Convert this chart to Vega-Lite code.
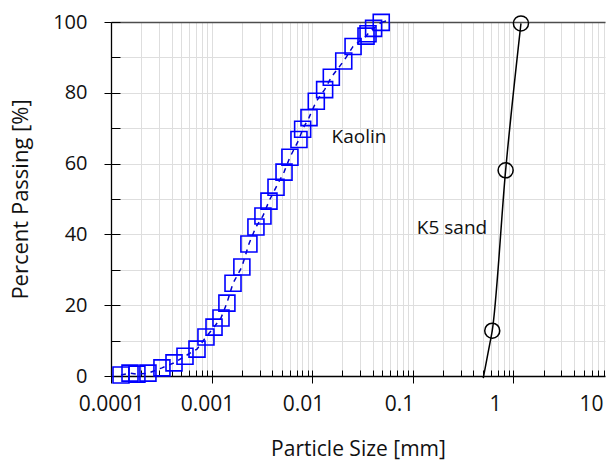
{
  "$schema": "https://vega.github.io/schema/vega-lite/v6.json",
  "width": 494,
  "height": 354,
  "autosize": {"type": "none"},
  "padding": {"left": 111, "top": 22, "right": 1, "bottom": 87},
  "config": {
    "view": {"stroke": null},
    "font": "Open Sans",
    "axis": {"tickColor": "#000000", "domainColor": "#000000", "gridColor": "#dedede", "gridWidth": 1, "labelColor": "#111111", "titleColor": "#111111", "titleFontWeight": "normal"}
  },
  "datasets": {
    "kaolin": [
      {"d": 0.0001257, "p": 0.3}, {"d": 0.0001545, "p": 0.8}, {"d": 0.000181, "p": 0.5}, {"d": 0.000233, "p": 0.8},
      {"d": 0.000321, "p": 2.3}, {"d": 0.000423, "p": 3.7}, {"d": 0.000544, "p": 5.6}, {"d": 0.000716, "p": 7.6},
      {"d": 0.000879, "p": 11.0}, {"d": 0.001057, "p": 13.8}, {"d": 0.00124, "p": 16.4}, {"d": 0.00142, "p": 20.6},
      {"d": 0.001633, "p": 26.2}, {"d": 0.002, "p": 30.8}, {"d": 0.00235, "p": 37.3}, {"d": 0.00276, "p": 42.1},
      {"d": 0.00324, "p": 45.2}, {"d": 0.00372, "p": 49.4}, {"d": 0.00437, "p": 53.3}, {"d": 0.00525, "p": 57.6},
      {"d": 0.00601, "p": 61.8}, {"d": 0.00739, "p": 66.8}, {"d": 0.00804, "p": 69.7}, {"d": 0.0093, "p": 73.0},
      {"d": 0.01099, "p": 77.6}, {"d": 0.0133, "p": 80.9}, {"d": 0.0155, "p": 84.4}, {"d": 0.0206, "p": 89.0},
      {"d": 0.0255, "p": 93.1}, {"d": 0.0343, "p": 96.0}, {"d": 0.0359, "p": 96.7}, {"d": 0.0408, "p": 98.2},
      {"d": 0.0486, "p": 99.9}
    ],
    "kaolinEnd": [
      {"d": 0.0486, "p": 99.9}, {"d": 0.058, "p": 100.5}
    ],
    "sandLine": [
      {"d": 0.502, "p": -0.6}, {"d": 0.543, "p": 4.5}, {"d": 0.585, "p": 9.3}, {"d": 0.617, "p": 12.8},
      {"d": 0.838, "p": 58.1}, {"d": 1.19, "p": 99.6}
    ],
    "sand": [
      {"d": 0.617, "p": 12.8}, {"d": 0.838, "p": 58.1}, {"d": 1.19, "p": 99.6}
    ],
    "notes": [
      {"d": 0.0292, "p": 67.5, "t": "Kaolin"},
      {"d": 0.2455, "p": 41.8, "t": "K5 sand"}
    ],
    "xlabels": [
      {"d": 0.0001}, {"d": 0.001}, {"d": 0.01}, {"d": 0.1}, {"d": 1}, {"d": 10}
    ]
  },
  "layer": [
    {
      "layer": [
        {
          "data": {"name": "kaolin"},
          "mark": {"type": "line", "color": "#0000cc", "strokeDash": [5, 5], "strokeWidth": 1.5},
          "encoding": {
            "x": {"field": "d", "type": "quantitative",
              "scale": {"type": "log", "domain": [0.0001, 8.15], "nice": false},
              "axis": {"orient": "bottom", "title": null, "labels": false, "grid": true, "domain": true, "domainWidth": 1.3, "ticks": true, "tickSize": -6,
                "values": [0.0001,0.0002,0.0003,0.0004,0.0005,0.0006,0.0007,0.0008,0.0009,0.001,0.002,0.003,0.004,0.005,0.006,0.007,0.008,0.009,0.01,0.02,0.03,0.04,0.05,0.06,0.07,0.08,0.09,0.1,0.2,0.3,0.4,0.5,0.6,0.7,0.8,0.9,1,2,3,4,5,6,7,8]}},
            "y": {"field": "p", "type": "quantitative",
              "scale": {"domain": [0, 100], "nice": false, "zero": false},
              "axis": {"orient": "left", "title": null, "labels": false, "grid": true, "domain": true, "domainWidth": 1.3, "ticks": true, "tickSize": -9,
                "values": [0,10,20,30,40,50,60,70,80,90,100]}}
          }
        },
        {
          "data": {"name": "kaolinEnd"},
          "mark": {"type": "line", "color": "#0000cc", "strokeDash": [5, 5], "strokeWidth": 1.5},
          "encoding": {
            "x": {"field": "d", "type": "quantitative", "scale": {"type": "log", "domain": [0.0001, 8.15], "nice": false}, "axis": null},
            "y": {"field": "p", "type": "quantitative", "scale": {"domain": [0, 100], "nice": false, "zero": false}, "axis": null}
          }
        },
        {
          "data": {"name": "kaolin"},
          "mark": {"type": "point", "shape": "square", "filled": false, "size": 256, "stroke": "#0000ff", "strokeWidth": 1.6, "opacity": 1},
          "encoding": {
            "x": {"field": "d", "type": "quantitative",
              "scale": {"type": "log", "domain": [0.0001, 8.15], "nice": false},
              "axis": {"orient": "bottom", "title": null, "labels": false, "grid": false, "domain": false, "ticks": true, "tickSize": 7,
                "values": [0.0001, 0.001, 0.01, 0.1, 1]}},
            "y": {"field": "p", "type": "quantitative",
              "scale": {"domain": [0, 100], "nice": false, "zero": false},
              "axis": {"orient": "left", "title": "Percent Passing [%]", "titleFontSize": 22, "titlePadding": 20, "labels": true, "labelFontSize": 20, "labelPadding": 17, "grid": false, "domain": false, "ticks": true, "tickSize": 7,
                "values": [0, 20, 40, 60, 80, 100]}}
          }
        },
        {
          "data": {"name": "sandLine"},
          "mark": {"type": "line", "color": "#000000", "strokeWidth": 1.5, "interpolate": "monotone"},
          "encoding": {
            "x": {"field": "d", "type": "quantitative",
              "scale": {"type": "log", "domain": [0.0001, 8.15], "nice": false},
              "axis": {"orient": "top", "title": null, "labels": false, "grid": false, "ticks": false, "domain": true, "domainColor": "#4d4d4d", "domainWidth": 1.3, "values": [1]}},
            "y": {"field": "p", "type": "quantitative", "scale": {"domain": [0, 100], "nice": false, "zero": false}, "axis": null}
          }
        },
        {
          "data": {"name": "sand"},
          "mark": {"type": "point", "shape": "circle", "filled": false, "size": 227, "stroke": "#000000", "strokeWidth": 1.5, "opacity": 1},
          "encoding": {
            "x": {"field": "d", "type": "quantitative", "scale": {"type": "log", "domain": [0.0001, 8.15], "nice": false}, "axis": null},
            "y": {"field": "p", "type": "quantitative", "scale": {"domain": [0, 100], "nice": false, "zero": false}, "axis": null}
          }
        },
        {
          "data": {"name": "notes"},
          "mark": {"type": "text", "fontSize": 19, "font": "Open Sans", "color": "#111111", "align": "center", "baseline": "middle"},
          "encoding": {
            "x": {"field": "d", "type": "quantitative", "scale": {"type": "log", "domain": [0.0001, 8.15], "nice": false}, "axis": null},
            "y": {"field": "p", "type": "quantitative", "scale": {"domain": [0, 100], "nice": false, "zero": false}, "axis": null},
            "text": {"field": "t"}
          }
        }
      ],
      "resolve": {"axis": {"x": "independent", "y": "independent"}}
    },
    {
      "data": {"name": "xlabels"},
      "mark": {"type": "point", "opacity": 0},
      "encoding": {
        "x": {"field": "d", "type": "quantitative",
          "scale": {"type": "log", "domain": [0.0001, 14], "nice": false},
          "axis": {"orient": "bottom", "values": [0.0001, 0.001, 0.01, 0.1, 1, 10], "format": "~g", "ticks": false, "domain": false, "grid": false,
            "labelFontSize": 21, "labelPadding": 17, "labelFlush": false, "labelOverlap": false, "labelBound": false,
            "title": "Particle Size [mm]", "titleFontSize": 21, "titlePadding": 24}}
      }
    }
  ],
  "resolve": {"scale": {"x": "independent"}}
}
